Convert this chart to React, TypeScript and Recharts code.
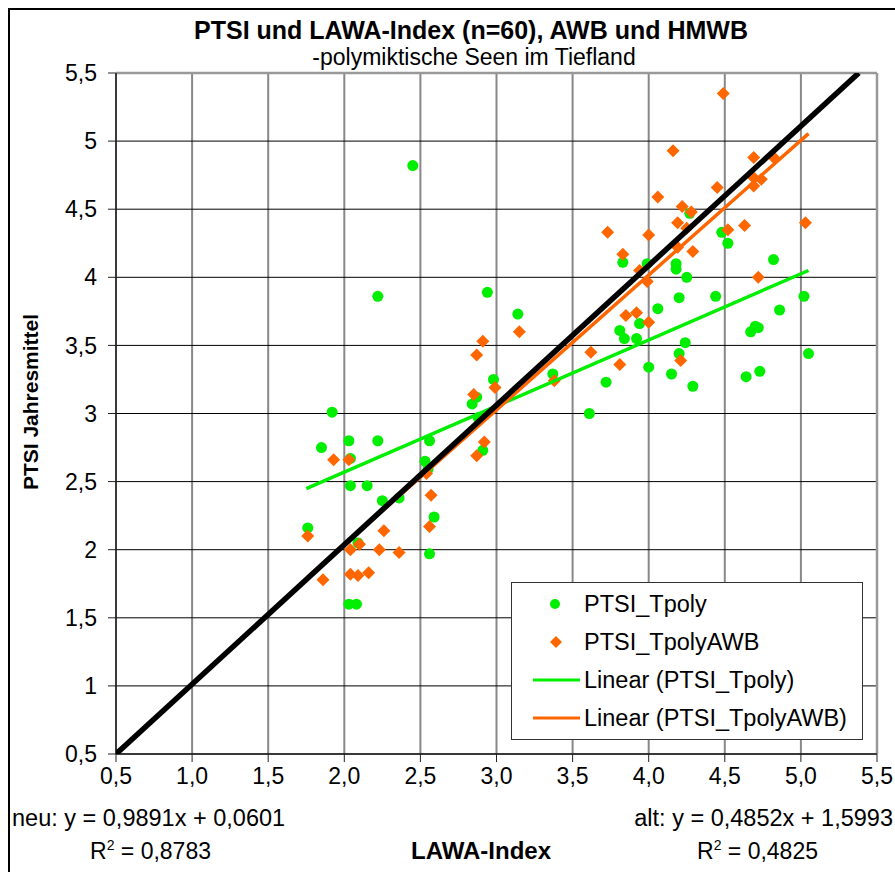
import React from 'react';
import {
  ScatterChart,
  Scatter,
  XAxis,
  YAxis,
  CartesianGrid,
  ReferenceLine,
  Legend,
} from 'recharts';

// PTSI_Tpoly: [LAWA-Index, PTSI]
const ptsiTpoly: [number, number][] = [
  [1.76, 2.16], [1.85, 2.75], [1.92, 3.01], [2.03, 2.8], [2.04, 2.67],
  [2.04, 2.47], [2.15, 2.47], [2.22, 2.8], [2.25, 2.36], [2.36, 2.38],
  [2.09, 2.05], [2.03, 1.6], [2.08, 1.6], [2.22, 3.86], [2.45, 4.82],
  [2.53, 2.65], [2.56, 2.8], [2.59, 2.24], [2.56, 1.97], [2.55, 2.59],
  [2.94, 3.89], [3.14, 3.73], [2.98, 3.25], [2.87, 3.12], [2.84, 3.07],
  [2.88, 2.97], [2.91, 2.73], [3.37, 3.29], [3.61, 3.0], [3.72, 3.23],
  [3.81, 3.61], [3.84, 3.55], [3.92, 3.55], [3.94, 3.66], [4.0, 3.34],
  [3.83, 4.11], [3.99, 4.1], [4.06, 3.77], [4.15, 3.29], [4.18, 4.1],
  [4.18, 4.06], [4.2, 3.85], [4.2, 3.44], [4.24, 3.52], [4.25, 4.0],
  [4.27, 4.47], [4.29, 3.2], [4.44, 3.86], [4.48, 4.33], [4.52, 4.25],
  [4.64, 3.27], [4.67, 3.6], [4.7, 3.64], [4.72, 3.63], [4.73, 3.31],
  [4.82, 4.13], [4.86, 3.76], [5.02, 3.86], [5.05, 3.44],
];

// PTSI_TpolyAWB: [LAWA-Index, PTSI]
const ptsiTpolyAwb: [number, number][] = [
  [1.76, 2.1], [1.86, 1.78], [1.93, 2.66], [2.03, 2.66], [2.04, 2.0],
  [2.04, 1.82], [2.09, 1.81], [2.1, 2.04], [2.16, 1.83], [2.23, 2.0],
  [2.26, 2.14], [2.36, 1.98], [2.54, 2.56], [2.56, 2.17], [2.57, 2.4],
  [2.85, 3.14], [2.87, 3.43], [2.91, 3.53], [2.99, 3.19], [2.92, 2.79],
  [2.87, 2.69], [3.15, 3.6], [3.38, 3.24], [3.62, 3.45], [3.73, 4.33],
  [3.81, 3.36], [3.83, 4.17], [3.85, 3.72], [3.92, 3.74], [3.94, 4.05],
  [3.99, 3.97], [4.0, 3.67], [4.0, 4.31], [4.06, 4.59], [4.16, 4.93],
  [4.19, 4.4], [4.19, 4.22], [4.21, 3.39], [4.22, 4.52], [4.25, 4.36],
  [4.28, 4.48], [4.29, 4.19], [4.45, 4.66], [4.49, 5.35], [4.52, 4.35],
  [4.63, 4.38], [4.69, 4.88], [4.69, 4.73], [4.74, 4.72], [4.69, 4.67],
  [4.72, 4.0], [4.83, 4.87], [5.03, 4.4],
];

// trend line end points
const linearTpoly: [number, number][] = [[1.75, 2.448], [5.05, 4.05]];
const linearTpolyAwb: [number, number][] = [[1.76, 1.801], [5.05, 5.055]];
const oneToOne: [number, number][] = [[0.5, 0.5], [5.38, 5.5]];

const xTicks = [0.5, 1, 1.5, 2, 2.5, 3, 3.5, 4, 4.5, 5, 5.5];
const yTicks = [0.5, 1, 1.5, 2, 2.5, 3, 3.5, 4, 4.5, 5, 5.5];

const GREEN = '#00ee00';
const ORANGE = '#ff6600';
const FONT = '"Liberation Sans", Arial, sans-serif';

const toRows = (pts: [number, number][]) => pts.map(([x, y]) => ({ x, y }));

const fmtX = (v: number) => v.toFixed(1).replace('.', ',');
const fmtY = (v: number) => String(v).replace('.', ',');

const Dot = (props: any) => <circle cx={props.cx} cy={props.cy} r={5.5} fill={GREEN} />;
const Diamond = (props: any) => {
  const { cx, cy } = props;
  const s = 6.5;
  return <path d={`M${cx},${cy - s}L${cx + s},${cy}L${cx},${cy + s}L${cx - s},${cy}Z`} fill={ORANGE} />;
};
const NoShape = () => <g />;

function LegendBox() {
  const row = { display: 'flex', alignItems: 'center', height: 38 } as const;
  return (
    <div
      style={{
        border: '1.5px solid #333',
        background: '#fff',
        padding: '2px 0',
        fontFamily: FONT,
        fontSize: 23.5,
        color: '#000',
      }}
    >
      <div style={row}>
        <svg width={72} height={20}><circle cx={43} cy={10} r={5} fill={GREEN} /></svg>
        <span>PTSI_Tpoly</span>
      </div>
      <div style={row}>
        <svg width={72} height={20}><path d="M44,4L50,10L44,16L38,10Z" fill={ORANGE} /></svg>
        <span>PTSI_TpolyAWB</span>
      </div>
      <div style={row}>
        <svg width={72} height={20}><line x1={21} y1={10} x2={68} y2={10} stroke={GREEN} strokeWidth={3} /></svg>
        <span>Linear (PTSI_Tpoly)</span>
      </div>
      <div style={row}>
        <svg width={72} height={20}><line x1={21} y1={10} x2={68} y2={10} stroke={ORANGE} strokeWidth={3} /></svg>
        <span>Linear (PTSI_TpolyAWB)</span>
      </div>
    </div>
  );
}

const abs = (left: number, top: number, extra: React.CSSProperties = {}): React.CSSProperties => ({
  position: 'absolute',
  left,
  top,
  whiteSpace: 'nowrap',
  ...extra,
});

export default function App() {
  return (
    <div
      style={{
        position: 'absolute',
        left: 0,
        top: 0,
        width: 895,
        height: 872,
        overflow: 'hidden',
        background: '#fff',
        fontFamily: FONT,
        color: '#000',
      }}
    >
      <div style={abs(8, 8, { width: 950, height: 950, border: '2px solid #000' })} />
      <ScatterChart width={895} height={872} margin={{ top: 73, right: 18, bottom: 88, left: 0 }}>
        <CartesianGrid horizontal={false} vertical stroke="#888" strokeWidth={2} />
        <CartesianGrid horizontal vertical={false} stroke="#000" strokeWidth={1} />
        <XAxis
          type="number"
          dataKey="x"
          domain={[0.5, 5.5]}
          ticks={xTicks}
          tickFormatter={fmtX}
          interval={0}
          allowDataOverflow
          height={30}
          tickSize={8}
          tickMargin={6}
          axisLine={{ stroke: '#222', strokeWidth: 1.5 }}
          tickLine={{ stroke: '#222' }}
          tick={{ fill: '#000', fontSize: 23, fontFamily: FONT }}
        />
        <YAxis
          type="number"
          dataKey="y"
          domain={[0.5, 5.5]}
          ticks={yTicks}
          tickFormatter={fmtY}
          interval={0}
          allowDataOverflow
          width={116}
          tickSize={8}
          tickMargin={11}
          axisLine={{ stroke: '#222', strokeWidth: 1.5 }}
          tickLine={{ stroke: '#222' }}
          tick={{ fill: '#000', fontSize: 23, fontFamily: FONT }}
        />
        <ReferenceLine y={5.5} stroke="#999" strokeWidth={2.5} />
        <ReferenceLine x={5.5} stroke="#999" strokeWidth={2.5} />
        <Scatter name="PTSI_Tpoly" data={toRows(ptsiTpoly)} shape={Dot} isAnimationActive={false} />
        <Scatter name="PTSI_TpolyAWB" data={toRows(ptsiTpolyAwb)} shape={Diamond} isAnimationActive={false} />
        <Scatter
          name="Linear (PTSI_Tpoly)"
          data={toRows(linearTpoly)}
          line={{ stroke: GREEN, strokeWidth: 3.5 }}
          lineType="joint"
          shape={NoShape}
          isAnimationActive={false}
        />
        <Scatter
          name="Linear (PTSI_TpolyAWB)"
          data={toRows(linearTpolyAwb)}
          line={{ stroke: ORANGE, strokeWidth: 3.5 }}
          lineType="joint"
          shape={NoShape}
          isAnimationActive={false}
        />
        <Scatter
          name="1:1"
          data={toRows(oneToOne)}
          line={{ stroke: '#000', strokeWidth: 5.5 }}
          lineType="joint"
          shape={NoShape}
          isAnimationActive={false}
        />
        <Legend
          layout="vertical"
          align="center"
          verticalAlign="middle"
          content={() => <LegendBox />}
          wrapperStyle={{ left: 511, top: 582, width: 352 }}
        />
      </ScatterChart>

      <div style={abs(471, 30, { transform: 'translate(-50%, -50%)', fontSize: 25, fontWeight: 'bold' })}>
        PTSI und LAWA-Index (n=60), AWB und HMWB
      </div>
      <div style={abs(474, 57, { transform: 'translate(-50%, -50%)', fontSize: 23 })}>
        -polymiktische Seen im Tiefland
      </div>
      <div
        style={abs(31, 402, {
          transform: 'translate(-50%, -50%) rotate(-90deg)',
          fontSize: 21,
          fontWeight: 'bold',
        })}
      >
        PTSI Jahresmittel
      </div>
      <div style={abs(12, 818, { transform: 'translateY(-50%)', fontSize: 23.5 })}>
        neu: y = 0,9891x + 0,0601
      </div>
      <div style={abs(893, 818, { transform: 'translate(-100%, -50%)', fontSize: 23.5 })}>
        alt: y = 0,4852x + 1,5993
      </div>
      <div style={abs(90, 851, { transform: 'translateY(-50%)', fontSize: 23 })}>
        R<sup style={{ fontSize: 14 }}>2</sup> = 0,8783
      </div>
      <div style={abs(481, 851, { transform: 'translate(-50%, -50%)', fontSize: 24, fontWeight: 'bold' })}>
        LAWA-Index
      </div>
      <div style={abs(697, 851, { transform: 'translateY(-50%)', fontSize: 23 })}>
        R<sup style={{ fontSize: 14 }}>2</sup> = 0,4825
      </div>
    </div>
  );
}
